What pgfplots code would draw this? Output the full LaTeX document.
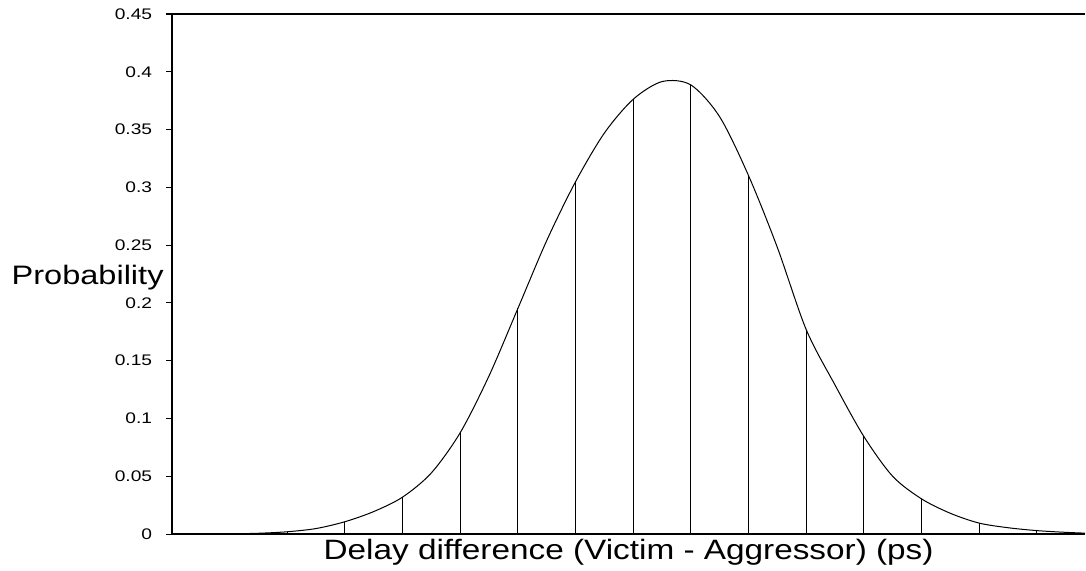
\documentclass[border=0pt]{standalone}
\usepackage{pgfplots}
\pgfplotsset{compat=1.18}
\usepackage{pgfplotstable}
\usepackage{fontspec}
\setmainfont{Liberation Sans}

\pgfplotstableread{
x y
0 0.0000
0.5 0.00005
1.0 0.0002
1.5 0.0007
2.0 0.0020
2.5 0.0048
3.0 0.0107
3.5 0.0195
4.0 0.0320
4.5 0.0530
5.0 0.0878
5.5 0.1370
6.0 0.1953
6.5 0.2540
7.0 0.3049
7.5 0.3470
8.0 0.3762
8.5 0.3915
9.0 0.3886
9.5 0.3610
10.0 0.3102
10.5 0.2480
11.0 0.1770
11.5 0.1290
12.0 0.0845
12.5 0.0500
13.0 0.0305
13.5 0.0180
14.0 0.0095
14.5 0.0055
15.0 0.0030
15.5 0.0015
15.84 0.0008
}\curvedata

\pgfplotstableread{
x y
1 0.0002
2 0.0020
3 0.0107
4 0.0320
5 0.0878
6 0.1953
7 0.3049
8 0.3762
9 0.3886
10 0.3102
11 0.1770
12 0.0845
13 0.0305
14 0.0095
15 0.0030
}\combdata

\begin{document}
\begin{tikzpicture}
\begin{axis}[
  scale only axis,
  width=684.75pt, height=390pt,
  xmin=0, xmax=15.84,
  ymin=0, ymax=0.45,
  axis x line*=box,
  axis y line*=left,
  axis line style={line width=1.1pt, black},
  xtick=\empty,
  ytick={0,0.05,...,0.45},
  tick align=outside,
  major tick length=4.5pt,
  tick style={line width=0.8pt, black},
  /pgf/number format/assume math mode=true,
  /pgf/number format/fixed,
  yticklabel={\scalebox{1.25}[1]{\pgfmathprintnumber{\tick}}},
  yticklabel style={font=\fontsize{11.5}{13}\selectfont, anchor=east, inner sep=0pt, xshift=-10.25pt},
  xlabel={Delay difference (Victim - Aggressor) (ps)},
  xlabel style={font=\fontsize{21}{25}\selectfont, xscale=1.19, at={(axis description cs:0.5,0)}, anchor=base, yshift=-18.75pt, inner sep=0pt},
  ylabel={Probability},
  ylabel style={font=\fontsize{20}{24}\selectfont, rotate=-90, xscale=1.22, at={(axis description cs:0,0.4807)}, anchor=base east, xshift=-5pt, inner sep=0pt},
  clip=false,
]
\addplot[black, line width=0.75pt, smooth] table[x=x, y=y] {\curvedata};
\addplot[black, line width=0.75pt, ycomb, no marks] table[x=x, y=y] {\combdata};
\coordinate (bl) at (axis cs:-2.984,-0.03115);
\coordinate (tr) at (axis cs:15.854,0.4621);
\end{axis}
\pgfresetboundingbox
\path[use as bounding box] (bl) rectangle (tr);
\end{tikzpicture}
\end{document}
